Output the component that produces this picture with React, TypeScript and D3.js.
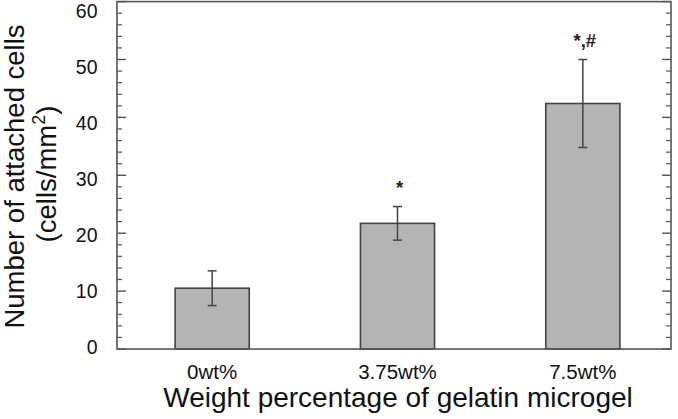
import React from "react";
import * as d3 from "d3";

const categories = ["0wt%", "3.75wt%", "7.5wt%"];
const means = [10.5, 21.7, 42.4];
const errors = [3.0, 2.9, 7.6];
const marks = ["", "*", "*,#"];
const yMajorTicks = [0, 10, 20, 30, 40, 50, 60];
const yMinorTicks = d3.range(0, 61, 2).filter((v) => v % 10 !== 0);

const W = 678;
const H = 419;
const frame = { left: 117, right: 671, top: 1.6, bottom: 349 };
const FONT = "'Liberation Sans', Arial, Helvetica, sans-serif";

export default function App() {
  const xb = d3.scaleBand<string>().domain(categories).range([119.5, 675.5]);
  const y = d3.scaleLinear().domain([0, 60]).range([frame.bottom, frame.top]);
  const yLab = d3.scaleLinear().domain([0, 60]).range([347.5, 11]);
  const barW = xb.bandwidth() * 0.4;
  const cx = (c: string) => (xb(c) as number) + xb.bandwidth() / 2;
  const stroke = "#444";

  return (
    <svg
      width={W}
      height={H}
      style={{ position: "absolute", left: 0, top: 0, background: "#fff" }}
      fontFamily={FONT}
    >
      {categories.map((c, i) => (
        <rect
          key={c}
          x={cx(c) - barW / 2}
          y={y(means[i])}
          width={barW}
          height={y(0) - y(means[i])}
          fill="#b4b4b4"
          stroke={stroke}
          strokeWidth={1.6}
        />
      ))}
      {categories.map((c, i) => {
        const t = y(means[i] + errors[i]);
        const b = y(means[i] - errors[i]);
        const xc = cx(c);
        return (
          <g key={"e" + c} stroke={stroke} strokeWidth={1.5}>
            <line x1={xc} x2={xc} y1={t} y2={b} />
            <line x1={xc - 4.5} x2={xc + 4.5} y1={t} y2={t} />
            <line x1={xc - 4.5} x2={xc + 4.5} y1={b} y2={b} />
          </g>
        );
      })}
      {categories.map((c, i) =>
        marks[i] ? (
          <text
            key={"m" + c}
            x={cx(c) + 2}
            y={y(means[i] + errors[i]) - 13}
            textAnchor="middle"
            fontSize={18.5}
            fontWeight="bold"
            fill="#222"
          >
            {marks[i]}
          </text>
        ) : null
      )}
      <rect
        x={frame.left}
        y={frame.top}
        width={frame.right - frame.left}
        height={frame.bottom - frame.top}
        fill="none"
        stroke="#555"
        strokeWidth={1.6}
      />
      {yMajorTicks.map((v) => (
        <g key={"M" + v} stroke="#555" strokeWidth={1.4}>
          <line x1={frame.left} x2={frame.left + 9} y1={y(v)} y2={y(v)} />
          <line x1={frame.right} x2={frame.right - 9} y1={y(v)} y2={y(v)} />
        </g>
      ))}
      {yMinorTicks.map((v) => (
        <g key={"m" + v} stroke="#555" strokeWidth={1.2}>
          <line x1={frame.left} x2={frame.left + 5} y1={y(v)} y2={y(v)} />
          <line x1={frame.right} x2={frame.right - 5} y1={y(v)} y2={y(v)} />
        </g>
      ))}
      {yMajorTicks.map((v) => (
        <text
          key={"l" + v}
          x={97.5}
          y={yLab(v)}
          dy="0.35em"
          textAnchor="end"
          fontSize={19.5}
          fill="#111"
        >
          {v}
        </text>
      ))}
      {categories.map((c) => (
        <text key={"x" + c} x={cx(c)} y={378.5} textAnchor="middle" fontSize={20.5} fill="#111">
          {c}
        </text>
      ))}
      <text x={398} y={407} textAnchor="middle" fontSize={28} fill="#111">
        Weight percentage of gelatin microgel
      </text>
      <g transform="rotate(-90)">
        <text x={-176.5} y={23.5} textAnchor="middle" fontSize={27.5} fill="#111">
          Number of attached cells
        </text>
        <text x={-174} y={55.5} textAnchor="middle" fontSize={27.5} fill="#111">
          (cells/mm<tspan fontSize={18} dy={-11}>2</tspan>
          <tspan dy={11}>)</tspan>
        </text>
      </g>
    </svg>
  );
}
